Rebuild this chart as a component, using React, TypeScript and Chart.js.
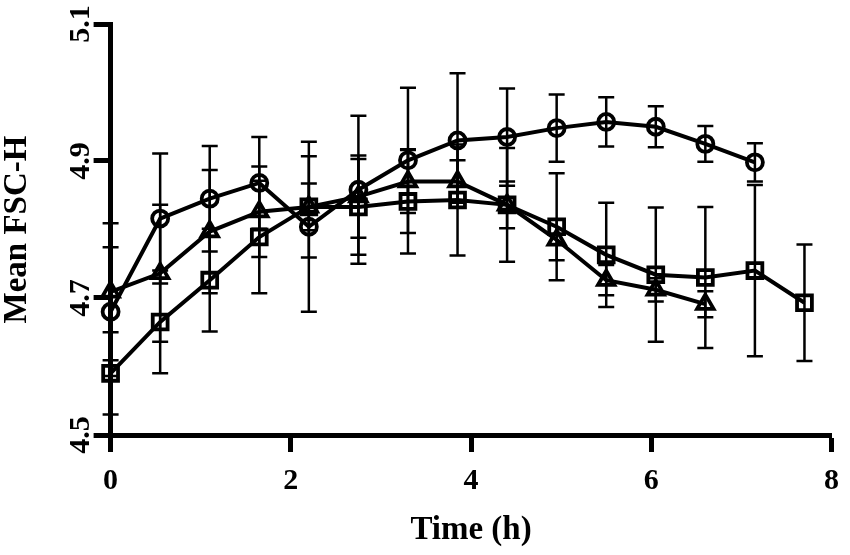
import { useEffect, useRef } from "react"
import { Chart, registerables, type ChartConfiguration, type Plugin } from "chart.js"

Chart.register(...registerables)

// sampling times (h)
const times = [0, 0.55, 1.1, 1.65, 2.2, 2.75, 3.3, 3.85, 4.4, 4.95, 5.5, 6.05, 6.6, 7.15, 7.7]

// circle series
const circleMean = [4.68, 4.816, 4.845, 4.868, 4.804, 4.858, 4.901, 4.93, 4.935, 4.948, 4.957, 4.95, 4.925, 4.898]
const circleErr = [0.094, 0.095, 0.077, 0.067, 0.124, 0.108, 0.106, 0.098, 0.071, 0.049, 0.036, 0.03, 0.026, 0.028]

// triangle series
const triangleMean = [4.709, 4.736, 4.797, 4.826, 4.833, 4.848, 4.87, 4.87, 4.836, 4.785, 4.726, 4.712, 4.691]
const triangleErr = [0.1, 0.1, 0.09, 0.066, 0.074, 0.06, 0.046, 0.031, 0.034, 0.03, 0.022, 0.017, 0.019]

// square series
const squareMean = [4.59, 4.665, 4.726, 4.789, 4.833, 4.833, 4.841, 4.843, 4.836, 4.804, 4.763, 4.734, 4.73, 4.74, 4.693]
const squareErr = [0.06, 0.075, 0.075, 0.082, 0.034, 0.07, 0.076, 0.081, 0.083, 0.078, 0.076, 0.098, 0.103, 0.125, 0.085]

const xTicks = [0, 2, 4, 6, 8]
const yTicks = [4.5, 4.7, 4.9, 5.1]

const errors = [circleErr, triangleErr, squareErr]

const fontFamily = '"Liberation Serif", "Times New Roman", serif'
const tickFont = { family: fontFamily, size: 30, weight: "bold" as const }
const titleFont = { family: fontFamily, size: 33, weight: "bold" as const }

const toPoints = (mean: number[]) => mean.map((y, i) => ({ x: times[i], y }))

// vertical error bars with caps, drawn behind the markers
const errorBars: Plugin<"line"> = {
  id: "errorBars",
  beforeDatasetsDraw(chart) {
    const { ctx } = chart
    const xs = chart.scales.x
    const ys = chart.scales.y
    ctx.save()
    ctx.strokeStyle = "#000"
    ctx.lineWidth = 2.5
    chart.data.datasets.forEach((ds, i) => {
      const errs = errors[i]
      ;(ds.data as { x: number; y: number }[]).forEach((p, j) => {
        const px = xs.getPixelForValue(p.x)
        const top = ys.getPixelForValue(p.y + errs[j])
        const bot = ys.getPixelForValue(p.y - errs[j])
        ctx.beginPath()
        ctx.moveTo(px, top)
        ctx.lineTo(px, bot)
        ctx.moveTo(px - 8, top)
        ctx.lineTo(px + 8, top)
        ctx.moveTo(px - 8, bot)
        ctx.lineTo(px + 8, bot)
        ctx.stroke()
      })
    })
    ctx.restore()
  },
}

const series = (data: { x: number; y: number }[], pointStyle: "circle" | "triangle" | "rect", radius: number) => ({
  data,
  pointStyle,
  pointRadius: radius,
  pointBorderWidth: 3.8,
  pointBorderColor: "#000",
  pointBackgroundColor: "rgba(0,0,0,0)",
  borderColor: "#000",
  borderWidth: 4,
  tension: 0,
  fill: false,
  clip: false as const,
})

export default function App() {
  const canvasRef = useRef<HTMLCanvasElement>(null)
  const chartRef = useRef<Chart | null>(null)

  useEffect(() => {
    document.body.style.margin = "0"
    if (!canvasRef.current) return
    if (chartRef.current) chartRef.current.destroy()

    const axisGrid = {
      display: true,
      drawOnChartArea: false,
      drawTicks: true,
      tickLength: 17,
      tickWidth: 5,
      tickColor: "#000",
      color: "#000",
    }

    const config: ChartConfiguration<"line"> = {
      type: "line",
      data: {
        datasets: [
          series(toPoints(circleMean), "circle", 8),
          series(toPoints(triangleMean), "triangle", 9.5),
          series(toPoints(squareMean), "rect", 10.5),
        ],
      },
      options: {
        responsive: true,
        maintainAspectRatio: false,
        animation: false,
        layout: { padding: { top: 24, right: 12.4, left: 0, bottom: 0 } },
        plugins: {
          legend: { display: false },
          tooltip: { enabled: false },
        },
        scales: {
          x: {
            type: "linear",
            min: 0,
            max: 8,
            afterBuildTicks: (s) => {
              s.ticks = xTicks.map((value) => ({ value }))
            },
            afterFit: (s) => {
              s.height = 120
            },
            border: { display: true, color: "#000", width: 5 },
            grid: axisGrid,
            ticks: { font: tickFont, color: "#000", padding: 11 },
            title: {
              display: true,
              text: "Time (h)",
              font: titleFont,
              color: "#000",
              padding: { top: 0, bottom: 4.7 },
            },
          },
          y: {
            type: "linear",
            min: 4.5,
            max: 5.1,
            afterBuildTicks: (s) => {
              s.ticks = yTicks.map((value) => ({ value }))
            },
            afterFit: (s) => {
              s.width = 110.6
            },
            border: { display: true, color: "#000", width: 5 },
            grid: axisGrid,
            ticks: {
              font: tickFont,
              color: "#000",
              minRotation: 90,
              maxRotation: 90,
              crossAlign: "center",
              padding: -6,
              callback: (v) => Number(v).toFixed(1),
            },
            title: {
              display: true,
              text: "Mean FSC-H",
              font: titleFont,
              color: "#000",
              padding: { top: -2, bottom: 0 },
            },
          },
        },
      },
      plugins: [errorBars],
    }

    chartRef.current = new Chart(canvasRef.current, config)

    return () => {
      if (chartRef.current) {
        chartRef.current.destroy()
        chartRef.current = null
      }
    }
  }, [])

  return (
    <div style={{ width: 850, height: 555, position: "relative", background: "#fff" }}>
      <canvas ref={canvasRef} />
    </div>
  )
}
